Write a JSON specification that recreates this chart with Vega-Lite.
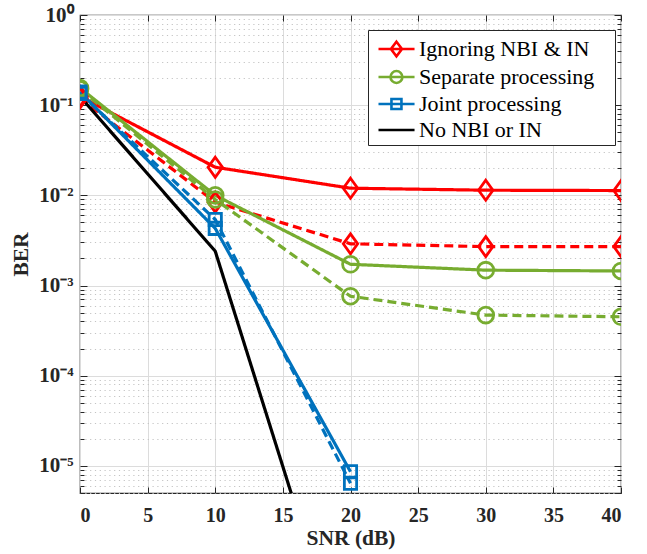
{
  "$schema": "https://vega.github.io/schema/vega-lite/v6.json",
  "width": 541,
  "height": 478,
  "autosize": {"type": "none"},
  "padding": {"left": 80, "top": 15, "right": 26, "bottom": 61},
  "background": "white",
  "data": {"values": [
    {"snr": 0, "ber": 0.125, "method": "Ignoring NBI & IN", "scenario": "solid"},
    {"snr": 10, "ber": 0.0205, "method": "Ignoring NBI & IN", "scenario": "solid"},
    {"snr": 20, "ber": 0.012, "method": "Ignoring NBI & IN", "scenario": "solid"},
    {"snr": 30, "ber": 0.0114, "method": "Ignoring NBI & IN", "scenario": "solid"},
    {"snr": 40, "ber": 0.0113, "method": "Ignoring NBI & IN", "scenario": "solid"},
    {"snr": 0, "ber": 0.12, "method": "Ignoring NBI & IN", "scenario": "dashed"},
    {"snr": 10, "ber": 0.0084, "method": "Ignoring NBI & IN", "scenario": "dashed"},
    {"snr": 20, "ber": 0.0029, "method": "Ignoring NBI & IN", "scenario": "dashed"},
    {"snr": 30, "ber": 0.0027, "method": "Ignoring NBI & IN", "scenario": "dashed"},
    {"snr": 40, "ber": 0.0027, "method": "Ignoring NBI & IN", "scenario": "dashed"},
    {"snr": 0, "ber": 0.155, "method": "Separate processing", "scenario": "solid"},
    {"snr": 10, "ber": 0.0100, "method": "Separate processing", "scenario": "solid"},
    {"snr": 20, "ber": 0.00172, "method": "Separate processing", "scenario": "solid"},
    {"snr": 30, "ber": 0.00148, "method": "Separate processing", "scenario": "solid"},
    {"snr": 40, "ber": 0.00145, "method": "Separate processing", "scenario": "solid"},
    {"snr": 0, "ber": 0.15, "method": "Separate processing", "scenario": "dashed"},
    {"snr": 10, "ber": 0.0090, "method": "Separate processing", "scenario": "dashed"},
    {"snr": 20, "ber": 0.00076, "method": "Separate processing", "scenario": "dashed"},
    {"snr": 30, "ber": 0.00047, "method": "Separate processing", "scenario": "dashed"},
    {"snr": 40, "ber": 0.00045, "method": "Separate processing", "scenario": "dashed"},
    {"snr": 0, "ber": 0.14, "method": "Joint processing", "scenario": "solid"},
    {"snr": 10, "ber": 0.0043, "method": "Joint processing", "scenario": "solid"},
    {"snr": 20, "ber": 0.0000086, "method": "Joint processing", "scenario": "solid"},
    {"snr": 0, "ber": 0.135, "method": "Joint processing", "scenario": "dashed"},
    {"snr": 10, "ber": 0.0054, "method": "Joint processing", "scenario": "dashed"},
    {"snr": 20, "ber": 0.0000064, "method": "Joint processing", "scenario": "dashed"},
    {"snr": 0, "ber": 0.125, "method": "No NBI or IN", "scenario": "solid"},
    {"snr": 10, "ber": 0.0024, "method": "No NBI or IN", "scenario": "solid"},
    {"snr": 20, "ber": 0.00000004, "method": "No NBI or IN", "scenario": "solid"}
  ]},
  "config": {
    "font": "Liberation Serif",
    "view": {"stroke": "#262626", "strokeWidth": 1.2},
    "axis": {
      "labelFont": "Liberation Serif",
      "labelFontWeight": "bold",
      "labelColor": "#262626",
      "titleFont": "Liberation Serif",
      "titleFontWeight": "bold",
      "titleColor": "#262626",
      "tickColor": "#262626",
      "domain": false
    },
    "legend": {
      "labelFont": "Liberation Serif",
      "labelFontSize": 22,
      "labelColor": "#000000",
      "labelFontWeight": "normal",
      "labelLimit": 400
    }
  },
  "resolve": {"axis": {"x": "independent", "y": "independent"}},
  "layer": [
    {
      "mark": {"type": "point", "opacity": 0, "filled": false},
      "encoding": {
        "color": {"field": "method", "type": "nominal",
          "scale": {"domain": ["Ignoring NBI & IN", "Separate processing", "Joint processing", "No NBI or IN"],
            "range": ["#FF0000", "#77AC30", "#0072BD", "#000000"]},
          "legend": {"orient": "none", "legendX": 288, "legendY": 15, "title": null,
            "padding": 4, "strokeColor": "#262626", "fillColor": "white",
            "labelFont": "Liberation Serif", "labelFontSize": 22, "labelColor": "#000000",
            "labelOffset": 17, "symbolSize": 729, "symbolStrokeWidth": 2.6,
            "symbolFillColor": "transparent", "symbolOpacity": 1, "rowPadding": 0,
            "labelExpr": "datum.label + '\u2800\u00a0\u00a0'", "labelLimit": 400}},
        "shape": {"field": "method", "type": "nominal",
          "scale": {"domain": ["Ignoring NBI & IN", "Separate processing", "Joint processing", "No NBI or IN"],
            "range": [
              "M-0.63,0H2.04M0.70,-0.54L1.11,0L0.70,0.54L0.29,0Z",
              "M-0.63,0H2.04M0.26,0A0.44,0.44 0 1,0 1.14,0A0.44,0.44 0 1,0 0.26,0",
              "M-0.63,0H2.04M0.33,-0.37H1.07V0.37H0.33Z",
              "M-0.63,0H2.04"
            ]},
          "legend": {"orient": "none", "legendX": 288, "legendY": 15, "title": null,
            "padding": 4, "strokeColor": "#262626", "fillColor": "white",
            "labelFont": "Liberation Serif", "labelFontSize": 22, "labelColor": "#000000",
            "labelOffset": 17, "symbolSize": 729, "symbolStrokeWidth": 2.6,
            "symbolFillColor": "transparent", "symbolOpacity": 1, "rowPadding": 0,
            "labelExpr": "datum.label + '\u2800\u00a0\u00a0'", "labelLimit": 400}}
      }
    },
    {
      "mark": {"type": "point", "opacity": 0},
      "encoding": {
        "x": {"field": "snr", "type": "quantitative",
          "scale": {"domain": [0, 40], "nice": false, "zero": false},
          "axis": {"orient": "bottom", "values": [0, 5, 10, 15, 20, 25, 30, 35, 40],
            "grid": true, "gridColor": "#dcdcdc", "gridWidth": 1,
            "tickSize": -6, "tickWidth": 1, "labelFontSize": 20, "labelPadding": 18,
            "title": "SNR (dB)", "titleFontSize": 21.5, "titlePadding": 2}},
        "y": {"field": "ber", "type": "quantitative",
          "scale": {"type": "log", "domain": [0.000005, 1], "nice": false},
          "axis": {"orient": "left", "values": [1, 0.1, 0.01, 0.001, 0.0001, 0.00001],
            "labelExpr": "datum.value >= 0.5 ? '10⁰' : datum.value >= 0.05 ? '10⁻¹' : datum.value >= 0.005 ? '10⁻²' : datum.value >= 0.0005 ? '10⁻³' : datum.value >= 0.00005 ? '10⁻⁴' : '10⁻⁵'",
            "grid": true, "gridColor": "#dcdcdc", "gridWidth": 1,
            "tickSize": -7, "tickWidth": 1, "labelFontSize": 21, "labelPadding": 14,
            "title": "BER", "titleFontSize": 21.5, "titlePadding": 6}}
      }
    },
    {
      "mark": {"type": "point", "opacity": 0},
      "encoding": {
        "x": {"field": "snr", "type": "quantitative", "axis": null},
        "y": {"field": "ber", "type": "quantitative",
          "axis": {"orient": "left",
            "values": [0.000005, 0.000006, 0.000007, 0.000008, 0.000009,
              0.00002, 0.00003, 0.00004, 0.00005, 0.00006, 0.00007, 0.00008, 0.00009,
              0.0002, 0.0003, 0.0004, 0.0005, 0.0006, 0.0007, 0.0008, 0.0009,
              0.002, 0.003, 0.004, 0.005, 0.006, 0.007, 0.008, 0.009,
              0.02, 0.03, 0.04, 0.05, 0.06, 0.07, 0.08, 0.09,
              0.2, 0.3, 0.4, 0.5, 0.6, 0.7, 0.8, 0.9],
            "grid": true, "gridColor": "#c4c4c4", "gridDash": [1.2, 3.6], "gridWidth": 1,
            "tickSize": -4, "tickWidth": 1, "labels": false, "title": null}}
      }
    },
    {
      "mark": {"type": "point", "opacity": 0},
      "encoding": {
        "x": {"field": "snr", "type": "quantitative", "axis": null},
        "y": {"field": "ber", "type": "quantitative",
          "axis": {"orient": "right", "values": [1, 0.1, 0.01, 0.001, 0.0001, 0.00001],
            "grid": false, "tickSize": -7, "tickWidth": 1, "labels": false, "title": null}}
      }
    },
    {
      "mark": {"type": "point", "opacity": 0},
      "encoding": {
        "x": {"field": "snr", "type": "quantitative", "axis": null},
        "y": {"field": "ber", "type": "quantitative",
          "axis": {"orient": "right",
            "values": [0.000005, 0.000006, 0.000007, 0.000008, 0.000009,
              0.00002, 0.00003, 0.00004, 0.00005, 0.00006, 0.00007, 0.00008, 0.00009,
              0.0002, 0.0003, 0.0004, 0.0005, 0.0006, 0.0007, 0.0008, 0.0009,
              0.002, 0.003, 0.004, 0.005, 0.006, 0.007, 0.008, 0.009,
              0.02, 0.03, 0.04, 0.05, 0.06, 0.07, 0.08, 0.09,
              0.2, 0.3, 0.4, 0.5, 0.6, 0.7, 0.8, 0.9],
            "grid": false, "tickSize": -4, "tickWidth": 1, "labels": false, "title": null}}
      }
    },
    {
      "mark": {"type": "point", "opacity": 0},
      "encoding": {
        "x": {"field": "snr", "type": "quantitative",
          "axis": {"orient": "top", "values": [0, 5, 10, 15, 20, 25, 30, 35, 40],
            "grid": false, "tickSize": -6, "tickWidth": 1, "labels": false, "title": null}},
        "y": {"field": "ber", "type": "quantitative", "axis": null}
      }
    },
    {
      "mark": {"type": "line", "strokeWidth": 3.2, "clip": true},
      "encoding": {
        "x": {"field": "snr", "type": "quantitative", "axis": null},
        "y": {"field": "ber", "type": "quantitative", "axis": null},
        "color": {"field": "method", "type": "nominal", "legend": null},
        "detail": {"field": "scenario", "type": "nominal"},
        "strokeDash": {"field": "scenario", "type": "nominal",
          "scale": {"domain": ["solid", "dashed"], "range": [[1, 0], [9, 5]]},
          "legend": null}
      }
    },
    {
      "transform": [{"filter": "datum.method === 'Ignoring NBI & IN'"}],
      "mark": {"type": "point", "shape": "M0,-1L0.72,0L0,1L-0.72,0Z", "size": 400, "strokeWidth": 2.8, "filled": false, "opacity": 1, "clip": true},
      "encoding": {
        "x": {"field": "snr", "type": "quantitative", "axis": null},
        "y": {"field": "ber", "type": "quantitative", "axis": null},
        "color": {"field": "method", "type": "nominal", "legend": null}
      }
    },
    {
      "transform": [{"filter": "datum.method === 'Separate processing'"}],
      "mark": {"type": "point", "shape": "circle", "size": 250, "strokeWidth": 2.8, "filled": false, "opacity": 1, "clip": true},
      "encoding": {
        "x": {"field": "snr", "type": "quantitative", "axis": null},
        "y": {"field": "ber", "type": "quantitative", "axis": null},
        "color": {"field": "method", "type": "nominal", "legend": null}
      }
    },
    {
      "transform": [{"filter": "datum.method === 'Joint processing'"}],
      "mark": {"type": "point", "shape": "square", "size": 150, "strokeWidth": 2.8, "filled": false, "opacity": 1, "clip": true},
      "encoding": {
        "x": {"field": "snr", "type": "quantitative", "axis": null},
        "y": {"field": "ber", "type": "quantitative", "axis": null},
        "color": {"field": "method", "type": "nominal", "legend": null}
      }
    }
  ]
}
